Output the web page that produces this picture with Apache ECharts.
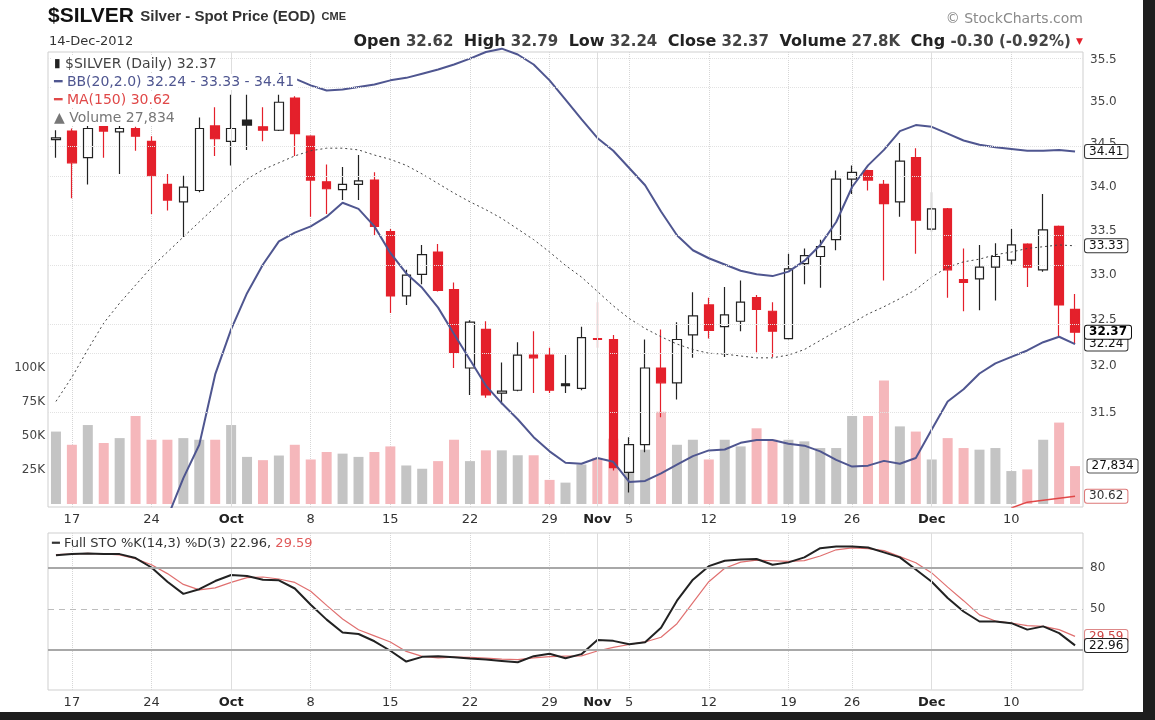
<!DOCTYPE html>
<html>
<head>
<meta charset="utf-8">
<title>$SILVER daily</title>
<script src="https://cdn.jsdelivr.net/npm/echarts@6.0.0/dist/echarts.min.js"></script>
<style>
  html, body { margin: 0; padding: 0; background: #fff; }
  #wrap { position: relative; width: 1155px; height: 720px; overflow: hidden; }
  #chart { position: absolute; left: 0; top: 0; width: 1155px; height: 720px; }
  .edge-r { position: absolute; left: 1143px; top: 0; width: 12px; height: 720px; background: #1e1e1e; }
  .edge-b { position: absolute; left: 0; top: 712px; width: 1155px; height: 8px; background: #1e1e1e; }
</style>
</head>
<body>
<div id="wrap">
  <div id="chart"></div>
  <div class="edge-r"></div>
  <div class="edge-b"></div>
</div>
<script>
// trading days shown (Thanksgiving 22-Nov has no bar)
const dates = [
  '2012-09-14',
  '2012-09-17', '2012-09-18', '2012-09-19', '2012-09-20', '2012-09-21',
  '2012-09-24', '2012-09-25', '2012-09-26', '2012-09-27', '2012-09-28',
  '2012-10-01', '2012-10-02', '2012-10-03', '2012-10-04', '2012-10-05',
  '2012-10-08', '2012-10-09', '2012-10-10', '2012-10-11', '2012-10-12',
  '2012-10-15', '2012-10-16', '2012-10-17', '2012-10-18', '2012-10-19',
  '2012-10-22', '2012-10-23', '2012-10-24', '2012-10-25', '2012-10-26',
  '2012-10-29', '2012-10-30', '2012-10-31', '2012-11-01', '2012-11-02',
  '2012-11-05', '2012-11-06', '2012-11-07', '2012-11-08', '2012-11-09',
  '2012-11-12', '2012-11-13', '2012-11-14', '2012-11-15', '2012-11-16',
  '2012-11-19', '2012-11-20', '2012-11-21', '2012-11-23',
  '2012-11-26', '2012-11-27', '2012-11-28', '2012-11-29', '2012-11-30',
  '2012-12-03', '2012-12-04', '2012-12-05', '2012-12-06', '2012-12-07',
  '2012-12-10', '2012-12-11', '2012-12-12', '2012-12-13', '2012-12-14'
]

const tickDays = ['2012-09-17', '2012-09-24', '2012-10-01', '2012-10-08', '2012-10-15', '2012-10-22', '2012-10-29',
  '2012-11-01', '2012-11-05', '2012-11-12', '2012-11-19', '2012-11-26', '2012-12-03', '2012-12-10']
const tickLabels = ['17', '24', 'Oct', '8', '15', '22', '29', 'Nov', '5', '12', '19', '26', 'Dec', '10']
const monthStarts = ['2012-10-01', '2012-11-01', '2012-12-03']

const open = [34.55, 34.65, 34.34, 34.71, 34.64, 34.68, 34.53, 34.03, 33.83, 33.96,
  34.71, 34.53, 34.78, 34.70, 34.66, 35.04, 34.59, 34.06, 33.97, 34.03,
  34.08, 33.49, 32.77, 33.01, 33.26, 32.84, 31.98, 32.40, 31.71, 31.74,
  32.12, 32.12, 31.81, 31.76, 32.29, 32.29, 30.87, 31.16, 31.98, 31.82,
  32.34, 32.67, 32.43, 32.49, 32.75, 32.60, 32.30, 33.13, 33.21, 33.40,
  34.09, 34.19, 34.03, 33.83, 34.34, 33.52, 33.75, 32.95, 32.96, 33.09,
  33.17, 33.35, 33.06, 33.55, 32.62]
const high = [34.66, 34.68, 34.72, 34.73, 34.72, 34.70, 34.59, 34.15, 34.13, 34.81,
  34.93, 35.08, 35.08, 34.93, 35.08, 35.06, 34.60, 34.26, 34.23, 34.37,
  34.17, 33.52, 33.06, 33.34, 33.35, 32.92, 32.50, 32.49, 32.04, 32.26,
  32.38, 32.20, 32.12, 32.43, 32.70, 32.34, 31.24, 32.29, 32.40, 32.48,
  32.81, 32.75, 32.87, 32.94, 32.78, 32.70, 33.24, 33.30, 33.40, 34.19,
  34.25, 34.20, 34.08, 34.51, 34.45, 33.94, 33.76, 33.30, 33.34, 33.36,
  33.52, 33.36, 33.92, 33.56, 32.79]
const low = [34.34, 33.87, 34.03, 34.34, 34.15, 34.42, 33.69, 33.73, 33.43, 33.94,
  34.36, 34.25, 34.43, 34.53, 34.65, 34.36, 33.66, 33.69, 33.85, 33.85,
  33.45, 32.58, 32.67, 32.90, 32.82, 31.98, 31.69, 31.66, 31.59, 31.73,
  31.71, 31.71, 31.71, 31.74, 32.20, 30.89, 30.66, 31.08, 31.45, 31.64,
  32.09, 32.30, 32.10, 32.38, 32.15, 32.10, 32.29, 32.90, 32.86, 33.28,
  33.92, 33.96, 32.94, 33.66, 33.24, 33.49, 32.75, 32.60, 32.61, 32.72,
  33.12, 32.87, 33.04, 32.32, 32.24]
const close = [34.57, 34.28, 34.68, 34.65, 34.68, 34.59, 34.13, 33.85, 34.00, 34.68,
  34.56, 34.68, 34.72, 34.66, 34.99, 34.62, 34.08, 33.98, 34.03, 34.07,
  33.55, 32.77, 33.00, 33.23, 32.83, 32.15, 32.48, 31.69, 31.73, 32.12,
  32.09, 31.74, 31.79, 32.31, 32.30, 30.92, 31.16, 31.98, 31.82, 32.29,
  32.55, 32.39, 32.56, 32.70, 32.62, 32.38, 33.07, 33.22, 33.32, 34.09,
  34.17, 34.08, 33.81, 34.30, 33.62, 33.75, 33.06, 32.92, 33.09, 33.21,
  33.34, 33.09, 33.51, 32.67, 32.37]
const volume = [53200, 43500, 58000, 44800, 48400, 64600, 47200, 47200, 48400, 47200,
  47200, 58000, 34600, 32200, 35600, 43500, 32700, 38200, 37000, 34600,
  38200, 42300, 28300, 25900, 31500, 47200, 31500, 39400, 39400, 35800,
  35800, 17700, 15700, 29000, 33900, 48000, 24000, 39900, 67700, 43500,
  47200, 32700, 47200, 42300, 55600, 47200, 47200, 46000, 41100, 41100,
  64600, 64600, 90700, 57000, 53200, 32700, 48400, 41100, 39900, 41100,
  24200, 25400, 47200, 59800, 27834]

// Bollinger bands (20, 2.0); parts hidden outside the panel are left empty
const bbUpper = [null, null, null, null, null, null, null, null, null, null,
  null, null, null, null, 35.33, 35.27, 35.19, 35.13, 35.14, 35.17,
  35.20, 35.25, 35.28, 35.33, 35.38, 35.44, 35.51, 35.59, 35.63, 35.56,
  35.44, 35.25, 35.02, 34.79, 34.57, 34.42, 34.22, 34.02, 33.72, 33.45,
  33.28, 33.19, 33.12, 33.05, 33.01, 32.99, 33.04, 33.16, 33.34, 33.60,
  34.00, 34.25, 34.43, 34.65, 34.72, 34.70, 34.62, 34.54, 34.49, 34.46,
  34.44, 34.42, 34.42, 34.43, 34.41]
const bbMiddle = [31.62, 31.88, 32.18, 32.47, 32.69, 32.89, 33.09, 33.26, 33.43, 33.60,
  33.77, 33.94, 34.09, 34.20, 34.28, 34.36, 34.42, 34.45, 34.45, 34.43,
  34.37, 34.32, 34.25, 34.15, 34.04, 33.93, 33.83, 33.74, 33.64, 33.52,
  33.40, 33.26, 33.11, 32.98, 32.82, 32.66, 32.52, 32.41, 32.32, 32.24,
  32.18, 32.14, 32.13, 32.11, 32.09, 32.09, 32.12, 32.18, 32.28, 32.38,
  32.47, 32.57, 32.65, 32.74, 32.84, 32.98, 33.09, 33.15, 33.18, 33.23,
  33.26, 33.30, 33.32, 33.34, 33.33]
const bbLower = [null, null, null, null, null, null, null, 30.40, 30.81, 31.16,
  31.91, 32.40, 32.80, 33.12, 33.38, 33.48, 33.55, 33.66, 33.82, 33.75,
  33.55, 33.25, 33.02, 32.86, 32.64, 32.35, 32.07, 31.79, 31.60, 31.43,
  31.24, 31.09, 30.97, 30.96, 31.02, 30.98, 30.77, 30.78, 30.86, 30.95,
  31.04, 31.10, 31.11, 31.18, 31.21, 31.21, 31.17, 31.15, 31.09, 31.00,
  30.93, 30.94, 30.99, 30.96, 31.02, 31.32, 31.62, 31.75, 31.92, 32.03,
  32.10, 32.17, 32.26, 32.32, 32.24]
// MA(150) only enters the panel at the far right
const ma150 = [null, null, null, null, null, null, null, null, null, null,
  null, null, null, null, null, null, null, null, null, null,
  null, null, null, null, null, null, null, null, null, null,
  null, null, null, null, null, null, null, null, null, null,
  null, null, null, null, null, null, null, null, null, null,
  null, null, null, null, null, null, null, null, null, null,
  30.50, 30.56, 30.58, 30.60, 30.62]

// Full STO %K(14,3) %D(3)
const stoK = [89.5, 90.4, 90.9, 90.5, 90.4, 87.5, 80.5, 70.0, 61.0, 64.5,
  70.5, 75.0, 74.2, 71.5, 71.0, 65.0, 53.0, 42.0, 32.5, 31.4,
  26.0, 19.0, 11.0, 14.5, 15.0, 14.2, 13.2, 12.5, 11.5, 10.5,
  15.0, 16.8, 13.5, 16.5, 27.0, 26.3, 23.8, 25.3, 36.0, 56.0,
  71.5, 81.5, 85.5, 86.5, 86.8, 82.5, 84.3, 88.0, 94.8, 96.0,
  96.0, 95.3, 91.7, 88.0, 79.0, 70.0, 58.0, 48.0, 40.6, 40.6,
  39.4, 34.6, 37.0, 32.0, 22.96]
const stoD = [90.0, 90.5, 91.0, 90.5, 89.8, 87.0, 82.5, 76.0, 68.0, 64.0,
  65.5, 69.5, 73.0, 73.5, 72.0, 69.5, 63.0, 52.5, 42.5, 34.5,
  30.0, 25.5, 18.5, 14.8, 13.8, 14.3, 14.1, 13.5, 12.8, 12.5,
  13.8, 14.7, 15.0, 15.2, 18.8, 21.5, 23.6, 25.5, 29.0, 39.0,
  54.5, 70.0, 80.0, 84.5, 86.0, 85.5, 85.0, 85.6, 89.0, 93.6,
  95.0, 94.5, 93.0, 88.5, 84.0, 76.5, 66.0, 56.0, 45.5, 41.0,
  39.5, 37.5, 37.0, 34.6, 29.59]

const priceTicks = [31.5, 32.0, 32.5, 33.0, 33.5, 34.0, 34.5, 35.0, 35.5]
const priceRange = [30.51, 35.59]
const volumeTicks = [25000, 50000, 75000, 100000]
const stoLevels = [20, 50, 80]
const stoLabels = [80, 50]

// ---- chart ----
const FONT = 'DejaVu Sans'
const RED = '#e4202b'
const PINK = '#f5b7bb'
const GREY = '#c4c4c4'
const BAND = '#4f5690'
const N = dates.length
const last = N - 1
const lg = v => (v == null ? null : Math.log(v))   // price panel is log scaled

const candleData = dates.map((d, i) => {
  const item = { value: [lg(open[i]), lg(close[i]), lg(low[i]), lg(high[i])] }
  const up = i === 0 || close[i] >= close[i - 1]
  if (close[i] < open[i] && up) {
    item.itemStyle = { color0: '#222', borderColor0: '#222' }
  } else if (close[i] > open[i] && !up) {
    item.itemStyle = { color: '#fff', borderColor: RED }
  }
  return item
})

const volData = volume.map((v, i) => ({
  value: v,
  itemStyle: { color: (i > 0 && close[i] < close[i - 1]) ? PINK : GREY }
}))

function tagLabel (text, border, color, bold) {
  return {
    show: true,
    distance: 10,
    formatter: () => text,
    fontFamily: FONT,
    fontSize: 12,
    fontWeight: bold ? 'bold' : 'normal',
    color: color || '#111',
    backgroundColor: '#fff',
    borderColor: border,
    borderWidth: 1,
    borderRadius: 2,
    padding: [1, 4, 0, 4]
  }
}

const chg = close[last] - close[last - 1]
const chgPct = chg / close[last - 1] * 100
const tickIdx = val => tickDays.indexOf(val)

const xLabel = {
  interval: (idx, val) => tickIdx(val) >= 0,
  margin: 6,
  formatter: val => {
    const k = tickIdx(val)
    if (k < 0) return ''
    const t = tickLabels[k]
    return /[A-Za-z]/.test(t) ? '{m|' + t + '}' : '{d|' + t + '}'
  },
  rich: {
    m: { fontFamily: FONT, fontSize: 13, fontWeight: 'bold', color: '#222' },
    d: { fontFamily: FONT, fontSize: 13, color: '#333' }
  }
}
const xSplit = {
  show: true,
  alignWithLabel: true,
  interval: (idx, val) => tickIdx(val) >= 0,
  lineStyle: { color: '#d6d6d6', type: 'dotted', width: 1 }
}
const monthLines = {
  silent: true, symbol: 'none', label: { show: false },
  lineStyle: { color: '#dedede', type: 'solid', width: 1 },
  data: monthStarts.map(d => ({ xAxis: d }))
}

function legendLine (text, top, color, rich) {
  return {
    left: 52,
    top: top,
    text: text,
    padding: [1, 3, 1, 2],
    backgroundColor: '#fff',
    textStyle: { fontFamily: FONT, fontSize: 14, fontWeight: 'normal', color: color, rich: rich || {} }
  }
}

const option = {
  animation: false,
  backgroundColor: '#fff',
  textStyle: { fontFamily: FONT },
  title: [
    {
      left: 48,
      top: 6,
      padding: 0,
      text: '{a|$SILVER} {b|Silver - Spot Price (EOD)} {c|CME}',
      textStyle: {
        rich: {
          a: { fontFamily: 'Liberation Sans', fontSize: 21, fontWeight: 'bold', color: '#111' },
          b: { fontFamily: 'Liberation Sans', fontSize: 15, color: '#333' },
          c: { fontFamily: 'Liberation Sans', fontSize: 11, color: '#333' }
        }
      }
    },
    {
      left: 49,
      top: 35,
      padding: 0,
      text: '14-Dec-2012',
      textStyle: { fontFamily: FONT, fontSize: 13, fontWeight: 'normal', color: '#333' }
    },
    {
      right: 72,
      top: 34,
      padding: 0,
      text: '{k|Open} {v|' + open[last].toFixed(2) + '}  {k|High} {v|' + high[last].toFixed(2) +
        '}  {k|Low} {v|' + low[last].toFixed(2) + '}  {k|Close} {v|' + close[last].toFixed(2) +
        '}  {k|Volume} {v|' + (volume[last] / 1000).toFixed(1) + 'K}  {k|Chg} {v|' + chg.toFixed(2) +
        ' (' + chgPct.toFixed(2) + '%)} {t|▼}',
      textStyle: {
        fontFamily: FONT,
        fontSize: 15,
        rich: {
          k: { fontFamily: FONT, fontSize: 16, fontWeight: 'bold', color: '#222' },
          v: { fontFamily: FONT, fontSize: 15, color: '#444' },
          t: { fontSize: 9, color: RED }
        }
      }
    },
    {
      right: 72,
      top: 12,
      padding: 0,
      text: '© StockCharts.com',
      textStyle: { fontFamily: FONT, fontSize: 14, fontWeight: 'normal', color: '#8a8a8a' }
    },
    legendLine('{i|▮} $SILVER (Daily) ' + close[last].toFixed(2), 56, '#444',
      { i: { color: '#222', fontSize: 12 } }),
    legendLine('━ BB(20,2.0) ' + bbLower[last].toFixed(2) + ' - ' + bbMiddle[last].toFixed(2) +
      ' - ' + bbUpper[last].toFixed(2), 74, BAND),
    legendLine('━ MA(150) ' + ma150[last].toFixed(2), 92, '#e04848'),
    legendLine('▲ Volume ' + volume[last].toLocaleString('en-US'), 110, '#777'),
    {
      left: 52,
      top: 537,
      padding: 0,
      text: '━ Full STO %K(14,3) %D(3) ' + stoK[last].toFixed(2) + ', {r|' + stoD[last].toFixed(2) + '}',
      textStyle: {
        fontFamily: FONT, fontSize: 13, fontWeight: 'normal', color: '#333',
        rich: { r: { fontFamily: FONT, fontSize: 13, color: '#e05a5a' } }
      }
    }
  ],
  grid: [
    { left: 48, top: 52, width: 1035, height: 455, show: true, borderColor: '#cfcfcf', borderWidth: 1, outerBoundsMode: 'none' },
    { left: 48, top: 52, width: 1035, height: 452, outerBoundsMode: 'none' },
    { left: 48, top: 533, width: 1035, height: 157, show: true, borderColor: '#cfcfcf', borderWidth: 1, outerBoundsMode: 'none' }
  ],
  xAxis: [
    { type: 'category', gridIndex: 0, data: dates, boundaryGap: true,
      axisLine: { show: false }, axisTick: { show: false }, axisLabel: xLabel, splitLine: xSplit },
    { type: 'category', gridIndex: 1, data: dates, boundaryGap: true, show: false },
    { type: 'category', gridIndex: 2, data: dates, boundaryGap: true,
      axisLine: { show: false }, axisTick: { show: false }, axisLabel: xLabel, splitLine: xSplit }
  ],
  yAxis: [
    {
      type: 'value', gridIndex: 0, position: 'right', scale: true,
      min: Math.log(priceRange[0]), max: Math.log(priceRange[1]),
      axisLine: { show: false }, axisTick: { show: false }, splitLine: { show: false },
      axisLabel: {
        customValues: priceTicks.map(Math.log),
        formatter: v => Math.exp(v).toFixed(1),
        fontFamily: FONT, fontSize: 12, color: '#444', margin: 7
      }
    },
    {
      type: 'value', gridIndex: 1, position: 'left', min: 0, max: 332000, interval: 25000,
      axisLine: { show: false }, axisTick: { show: false }, splitLine: { show: false },
      axisLabel: {
        formatter: v => (volumeTicks.indexOf(v) >= 0 ? (v / 1000) + 'K' : ''),
        fontFamily: FONT, fontSize: 12, color: '#444', margin: 3
      }
    },
    {
      type: 'value', gridIndex: 2, position: 'right', min: -10, max: 106, interval: 10,
      axisLine: { show: false }, axisTick: { show: false }, splitLine: { show: false },
      axisLabel: {
        formatter: v => (stoLabels.indexOf(v) >= 0 ? String(v) : ''),
        fontFamily: FONT, fontSize: 12, color: '#444', margin: 7
      }
    }
  ],
  series: [
    {
      name: 'grid lines', type: 'line', xAxisIndex: 0, yAxisIndex: 0, data: [], z: 0, silent: true,
      markLine: {
        silent: true, symbol: 'none', label: { show: false },
        lineStyle: { color: '#e2e2e2', type: 'dotted', width: 1 },
        data: priceTicks.map(v => ({ yAxis: Math.log(v) })).concat(monthStarts.map(d => ({
          xAxis: d, lineStyle: { color: '#dedede', type: 'solid', width: 1 }
        })))
      }
    },
    {
      name: 'month lines', type: 'line', xAxisIndex: 2, yAxisIndex: 2, data: [], z: 0, silent: true,
      markLine: monthLines
    },
    {
      name: 'Volume', type: 'bar', xAxisIndex: 1, yAxisIndex: 1, barWidth: 10, z: 1,
      data: volData,
      markPoint: {
        symbol: 'rect', symbolSize: 1, itemStyle: { color: 'transparent' },
        data: [{ coord: [dates[last], volume[last]] }],
        label: Object.assign(tagLabel(volume[last].toLocaleString('en-US'), '#555'), { position: 'right', distance: 12 })
      }
    },
    {
      name: '$SILVER', type: 'candlestick', xAxisIndex: 0, yAxisIndex: 0, barWidth: 9, z: 3,
      itemStyle: { color: '#fff', color0: RED, borderColor: '#222', borderColor0: RED, borderWidth: 1.2 },
      data: candleData
    },
    {
      name: 'BB middle', type: 'line', xAxisIndex: 0, yAxisIndex: 0, data: bbMiddle.map(lg), z: 4,
      symbol: 'none', silent: true, lineStyle: { color: '#444', width: 1, type: [2, 3] },
      endLabel: tagLabel(bbMiddle[last].toFixed(2), '#333')
    },
    {
      name: 'BB upper', type: 'line', xAxisIndex: 0, yAxisIndex: 0, data: bbUpper.map(lg), z: 4,
      symbol: 'none', silent: true, clip: false, lineStyle: { color: BAND, width: 2 },
      endLabel: tagLabel(bbUpper[last].toFixed(2), '#333')
    },
    {
      name: 'BB lower', type: 'line', xAxisIndex: 0, yAxisIndex: 0, data: bbLower.map(lg), z: 4,
      symbol: 'none', silent: true, lineStyle: { color: BAND, width: 2 },
      endLabel: tagLabel(bbLower[last].toFixed(2), '#333')
    },
    {
      name: 'MA(150)', type: 'line', xAxisIndex: 0, yAxisIndex: 0, data: ma150.map(lg), z: 4,
      symbol: 'none', silent: true, lineStyle: { color: '#e04848', width: 1.5 },
      endLabel: tagLabel(ma150[last].toFixed(2), '#d77', '#333')
    },
    {
      name: 'close tag', type: 'line', xAxisIndex: 0, yAxisIndex: 0, data: close.map(lg), z: 6,
      symbol: 'none', silent: true, lineStyle: { opacity: 0 },
      endLabel: tagLabel(close[last].toFixed(2), '#111', '#000', true)
    },
    {
      name: '%D', type: 'line', xAxisIndex: 2, yAxisIndex: 2, data: stoD, z: 3,
      symbol: 'none', silent: true, lineStyle: { color: '#e07070', width: 1.2 },
      endLabel: tagLabel(stoD[last].toFixed(2), '#d88', '#c44')
    },
    {
      name: '%K', type: 'line', xAxisIndex: 2, yAxisIndex: 2, data: stoK, z: 4,
      symbol: 'none', silent: true, lineStyle: { color: '#222', width: 2 },
      endLabel: tagLabel(stoK[last].toFixed(2), '#222'),
      markLine: {
        silent: true, symbol: 'none', label: { show: false },
        data: stoLevels.map(v => ({
          yAxis: v,
          lineStyle: v === 50
            ? { color: '#bdbdbd', type: [6, 5], width: 1 }
            : { color: '#a8a8a8', type: 'solid', width: 2 }
        }))
      }
    }
  ]
}

const chart = echarts.init(document.getElementById('chart'), null, { renderer: 'canvas' })
chart.setOption(option)
</script>
</body>
</html>
